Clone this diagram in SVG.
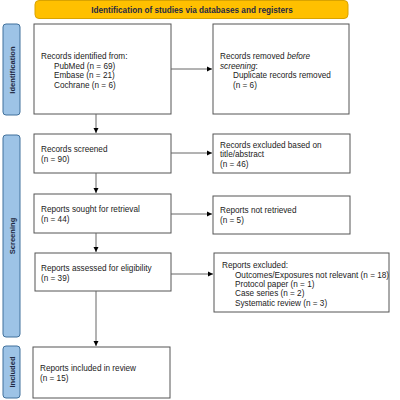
<svg xmlns="http://www.w3.org/2000/svg" width="400" height="400" viewBox="0 0 400 400">
<defs>
<marker id="ah" markerWidth="6" markerHeight="6" refX="5" refY="3" orient="auto" markerUnits="userSpaceOnUse">
<path d="M0,0.5 L5,3 L0,5.5 Z" fill="#000"/>
</marker>
<style>
.box{fill:#fff;stroke:#555;stroke-width:1}
.side{fill:#9DC3E6;stroke:#41719C;stroke-width:1}
.t{font-family:"Liberation Sans",Arial,sans-serif;font-size:8.2px;fill:#222}
.st{font-family:"Liberation Sans",Arial,sans-serif;font-size:7.6px;font-weight:bold;fill:#1F2A44;text-anchor:middle}
.bt{font-family:"Liberation Sans",Arial,sans-serif;font-size:8.2px;font-weight:bold;fill:#1F2A44;text-anchor:middle}
.ln{stroke:#666;stroke-width:1;fill:none;marker-end:url(#ah)}
</style>
</defs>
<rect width="400" height="400" fill="#fff"/>
<g id="banner">
<rect x="35" y="0.5" width="313" height="18" rx="4" fill="#FFC000" stroke="#D9A300"/>
<text class="bt" x="192" y="12.5">Identification of studies via databases and registers</text>
</g>
<g id="side-identification">
<rect class="side" x="3" y="24" width="17" height="91" rx="3"/>
<text class="st" transform="translate(14.5,70) rotate(-90)">Identification</text>
</g>
<g id="side-screening">
<rect class="side" x="3" y="135" width="17" height="202" rx="3"/>
<text class="st" transform="translate(14.5,236) rotate(-90)">Screening</text>
</g>
<g id="side-included">
<rect class="side" x="3" y="346" width="17" height="52" rx="3"/>
<text class="st" transform="translate(14.5,372) rotate(-90)">Included</text>
</g>
<g id="identified">
<rect class="box" x="34" y="24" width="137" height="90"/>
<text class="t" x="41" y="59">Records identified from:</text>
<text class="t" x="54" y="68.5">PubMed (n = 69)</text>
<text class="t" x="54" y="78">Embase (n = 21)</text>
<text class="t" x="54" y="87.5">Cochrane (n = 6)</text>
</g>
<g id="removed">
<rect class="box" x="213" y="24" width="136" height="90"/>
<text class="t" x="220" y="59">Records removed <tspan font-style="italic">before</tspan></text>
<text class="t" x="220" y="68.5"><tspan font-style="italic">screening</tspan>:</text>
<text class="t" x="233" y="78">Duplicate records removed</text>
<text class="t" x="233" y="87.5">(n = 6)</text>
</g>
<g id="screened">
<rect class="box" x="34" y="134" width="137" height="39"/>
<text class="t" x="41" y="152">Records screened</text>
<text class="t" x="41" y="162">(n = 90)</text>
</g>
<g id="excluded1">
<rect class="box" x="213" y="134" width="137" height="39"/>
<text class="t" x="220" y="148">Records excluded based on</text>
<text class="t" x="220" y="157">title/abstract</text>
<text class="t" x="220" y="167">(n = 46)</text>
</g>
<g id="sought">
<rect class="box" x="34" y="194" width="137" height="39"/>
<text class="t" x="41" y="212">Reports sought for retrieval</text>
<text class="t" x="41" y="222">(n = 44)</text>
</g>
<g id="notretrieved">
<rect class="box" x="213" y="196" width="137" height="38"/>
<text class="t" x="220" y="213">Reports not retrieved</text>
<text class="t" x="220" y="223">(n = 5)</text>
</g>
<g id="assessed">
<rect class="box" x="35" y="253" width="136" height="38"/>
<text class="t" x="41" y="271">Reports assessed for eligibility</text>
<text class="t" x="41" y="281">(n = 39)</text>
</g>
<g id="excluded2">
<rect class="box" x="214" y="253" width="175" height="59"/>
<text class="t" x="222" y="268">Reports excluded:</text>
<text class="t" x="235" y="277.5">Outcomes/Exposures not relevant (n = 18)</text>
<text class="t" x="235" y="287">Protocol paper (n = 1)</text>
<text class="t" x="235" y="296">Case series (n = 2)</text>
<text class="t" x="235" y="305.5">Systematic review (n = 3)</text>
</g>
<g id="included">
<rect class="box" x="33" y="347" width="137" height="51"/>
<text class="t" x="40" y="371">Reports included in review</text>
<text class="t" x="40" y="381">(n = 15)</text>
</g>
<g id="connectors">
<line class="ln" x1="171" y1="69" x2="212" y2="69"/>
<line class="ln" x1="96" y1="114" x2="96" y2="133"/>
<line class="ln" x1="171" y1="153" x2="212" y2="153"/>
<line class="ln" x1="96" y1="173" x2="96" y2="193"/>
<line class="ln" x1="171" y1="214" x2="212" y2="214"/>
<line class="ln" x1="96" y1="233" x2="96" y2="252"/>
<line class="ln" x1="171" y1="274" x2="213" y2="274"/>
<line class="ln" x1="96" y1="291" x2="96" y2="346"/>
</g>
</svg>
